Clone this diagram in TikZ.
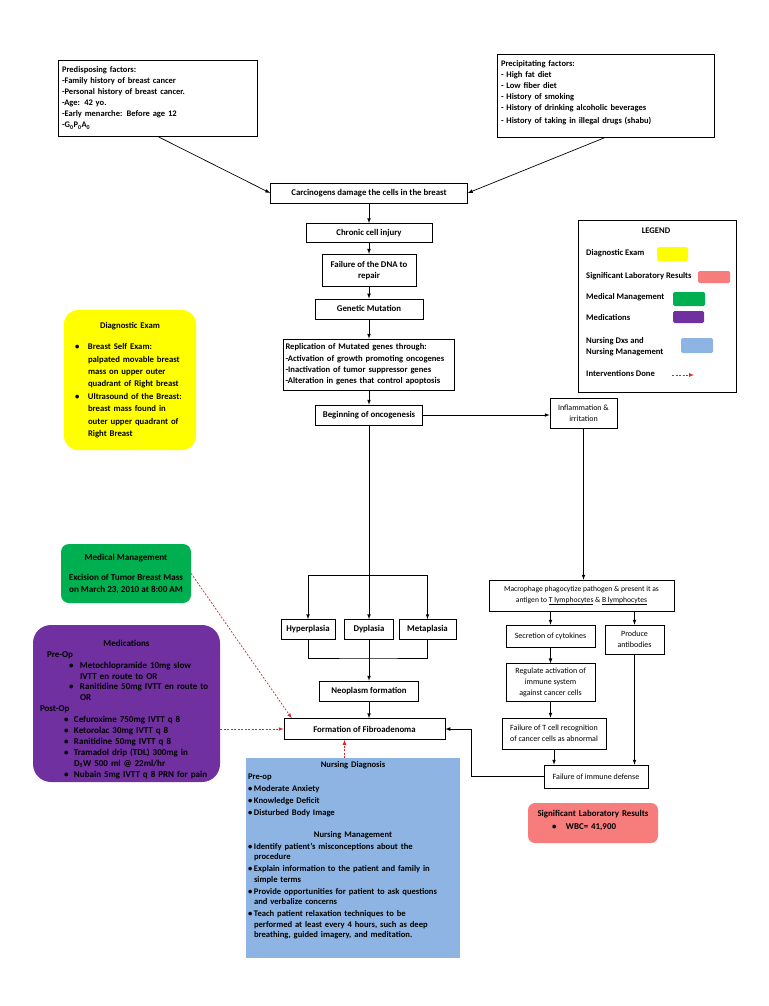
\documentclass[tikz,border=0pt]{standalone}
\usepackage{fontspec}
\setmainfont{Carlito}
\usetikzlibrary{positioning}

\definecolor{examyellow}{RGB}{255,255,0}
\definecolor{mgmtgreen}{RGB}{0,176,80}
\definecolor{medpurple}{RGB}{112,48,160}
\definecolor{labpink}{RGB}{247,124,124}
\definecolor{nurseblue}{RGB}{141,180,226}
\definecolor{donered}{RGB}{214,40,40}

\newcommand{\listline}[3]{\par\noindent\hangindent=\dimexpr#1+#2\relax\hangafter=1%
    \hspace*{#1}\makebox[#2][l]{\textbullet}#3\par}

\tikzset{
    flowbox/.style={draw, line width=0.7pt, inner sep=2pt, align=center,
        font=\fontsize{8.8}{11}\selectfont\bfseries},
    cellbox/.style={draw, line width=0.7pt, inner sep=2pt, align=center,
        font=\fontsize{8}{11}\selectfont},
    notebox/.style={fill=#1, rounded corners=6pt, inner sep=3pt,
        font=\fontsize{8.8}{12}\selectfont\bfseries},
    swatch/.style={fill=#1, rounded corners=1.5pt, inner sep=0pt,
        minimum width=31pt, minimum height=13pt},
    legendtext/.style={anchor=west, inner sep=0pt, align=left,
        font=\fontsize{8.6}{11}\selectfont\bfseries}
}

\begin{document}
\begin{tikzpicture}[x=1pt, y=-1pt]
\tikzstyle{flowline}=[->, >=latex, line width=0.7pt]
\tikzstyle{donearrow}=[->, >=latex, color=donered, dash pattern=on 2pt off 1.5pt, line width=0.7pt]

\useasboundingbox (0,0) rectangle (768,1006);

% factors
\node[flowbox, minimum width=199pt, minimum height=76pt, text width=191pt, align=left,
    font=\fontsize{8.5}{11}\selectfont\bfseries] (predisp) at (157.5,98)
    {Predisposing factors:\\-Family history of breast cancer\\-Personal history of breast cancer.\\-Age: 42 yo.\\-Early menarche: Before age 12\\-G\textsubscript{0}P\textsubscript{0}A\textsubscript{0}};
\node[flowbox, minimum width=217pt, minimum height=83pt, text width=209pt, align=left,
    font=\fontsize{8.5}{11}\selectfont\bfseries] (precip) at (605.5,95.5)
    {Precipitating factors:\\- High fat diet\\- Low fiber diet\\- History of smoking\\- History of drinking alcoholic beverages\\[2pt]- History of taking in illegal drugs (shabu)\\[-4pt]\mbox{}};

% main chain
\node[flowbox, minimum width=197pt, minimum height=20pt] (carc) at (369,193) {Carcinogens damage the cells in the breast};
\node[flowbox, minimum width=126pt, minimum height=19pt] (chronic) at (369,233) {Chronic cell injury};
\node[flowbox, minimum width=94pt, minimum height=32pt, below=11pt of chronic] (dna) {Failure of the DNA to\\repair};
\node[flowbox, minimum width=108pt, minimum height=20pt, below=12pt of dna] (genetic) {Genetic Mutation};
\node[flowbox, minimum width=171pt, minimum height=51pt, text width=167pt, align=left,
    font=\fontsize{8.6}{11.3}\selectfont\bfseries] (replic) at (369,364.5)
    {Replication of Mutated genes through:\\-Activation of growth promoting oncogenes\\-Inactivation of tumor suppressor genes\\-Alteration in genes that control apoptosis};
\node[flowbox, minimum width=107pt, minimum height=20pt] (onco) at (369,415) {Beginning of oncogenesis};
\node[flowbox, minimum width=54pt, minimum height=20pt] (hyper) at (308,629.5) {Hyperplasia};
\node[flowbox, minimum width=49pt, minimum height=20pt] (dys) at (369,629.5) {Dyplasia};
\node[flowbox, minimum width=57pt, minimum height=20pt] (meta) at (427.5,629.5) {Metaplasia};
\node[flowbox, minimum width=99pt, minimum height=20pt] (neo) at (369,691) {Neoplasm formation};
\node[flowbox, minimum width=161pt, minimum height=21pt] (fibro) at (364.5,729) {Formation of Fibroadenoma};

% immune side
\node[cellbox, minimum width=67pt, minimum height=30pt] (inflam) at (583.5,413) {Inflammation \&\\irritation};
\node[cellbox, minimum width=185pt, minimum height=31pt, font=\fontsize{7.6}{11}\selectfont] (macro) at (581.5,595.5)
    {Macrophage phagocytize pathogen \& present it as\\antigen to \underline{T lymphocytes} \& \underline{B lymphocytes}};
\node[cellbox, minimum width=89pt, minimum height=22pt] (secr) at (550.5,636) {Secretion of cytokines};
\node[cellbox, minimum width=59pt, minimum height=29pt] (prod) at (634.5,639.5) {Produce\\antibodies};
\node[cellbox, minimum width=89pt, minimum height=38pt, below=16pt of secr] (regu) {Regulate activation of\\immune system\\against cancer cells};
\node[cellbox, minimum width=104pt, minimum height=31pt] (failt) at (554,733.5) {Failure of T cell recognition\\of cancer cells as abnormal};
\node[cellbox, minimum width=104pt, minimum height=23pt] (failimm) at (596,776.5) {Failure of immune defense};

% coloured notes
\node[notebox=examyellow, rounded corners=14pt, minimum width=132pt, minimum height=140pt,
    text width=124pt, align=left, font=\fontsize{8.7}{12.4}\selectfont\bfseries] (diagexam) at (130,380)
    {{\centering Diagnostic Exam\par}\vspace{9pt}%
    \listline{7pt}{13pt}{Breast Self Exam:\newline palpated movable breast\newline mass on upper outer\newline quadrant of Right breast}%
    \listline{7pt}{13pt}{Ultrasound of the Breast:\newline breast mass found in\newline outer upper quadrant of\newline Right Breast}};
\node[notebox=mgmtgreen, rounded corners=8pt, minimum width=130pt, minimum height=59pt, align=center,
    font=\fontsize{9.1}{12}\selectfont\bfseries] (medmgmt) at (126,573.5)
    {Medical Management\\[8pt]Excision of Tumor Breast Mass\\on March 23, 2010 at 8:00 AM};
\node[notebox=medpurple, rounded corners=18pt, minimum width=187pt, minimum height=157pt,
    text width=181pt, align=left, font=\fontsize{9}{10.9}\selectfont\bfseries] (meds) at (126.5,703.5)
    {{\centering Medications\par}%
    \noindent\hspace*{11pt}Pre-Op\par
    \listline{33pt}{11pt}{Metochlopramide 10mg slow\newline IVTT en route to OR}%
    \listline{33pt}{11pt}{Ranitidine 50mg IVTT en route to\newline OR}%
    \noindent\hspace*{4pt}Post-Op\par
    \listline{28pt}{10pt}{Cefuroxime 750mg IVTT q 8}%
    \listline{28pt}{10pt}{Ketorolac 30mg IVTT q 8}%
    \listline{28pt}{10pt}{Ranitidine 50mg IVTT q 8}%
    \listline{28pt}{10pt}{Tramadol drip (TDL) 300mg in\newline D\textsubscript{5}W 500 ml @ 22ml/hr}%
    \listline{28pt}{10pt}{Nubain 5mg IVTT q 8 PRN for pain}%
    \vspace{-21pt}\mbox{}};
\node[notebox=nurseblue, sharp corners, anchor=north, minimum width=214pt, text width=210pt,
    inner xsep=2pt, align=left, font=\fontsize{8.6}{10.5}\selectfont\bfseries] (nurse) at (353,758)
    {\parskip=1.5pt
    {\centering Nursing Diagnosis\par}
    Pre-op\par
    \listline{0pt}{6pt}{Moderate Anxiety}%
    \listline{0pt}{6pt}{Knowledge Deficit}%
    \listline{0pt}{6pt}{Disturbed Body Image}%
    \vspace{10pt}
    {\centering Nursing Management\par}
    \listline{0pt}{6pt}{Identify patient's misconceptions about the\newline procedure}%
    \listline{0pt}{6pt}{Explain information to the patient and family in\newline simple terms}%
    \listline{0pt}{6pt}{Provide opportunities for patient to ask questions\newline and verbalize concerns}%
    \listline{0pt}{6pt}{Teach patient relaxation techniques to be\newline performed at least every 4 hours, such as deep\newline breathing, guided imagery, and meditation.}%
    \vspace{5.5pt}\mbox{}};
\node[notebox=labpink, rounded corners=7pt, minimum width=130pt, minimum height=40pt,
    text width=124pt, align=left, font=\fontsize{8.9}{13}\selectfont\bfseries] (labres) at (593,823)
    {{\centering Significant Laboratory Results\par}\listline{21pt}{14pt}{WBC= 41,900}\vspace{-6pt}\mbox{}};

% legend
\node[draw, line width=0.7pt, minimum width=158pt, minimum height=172pt] (legend) at (657,306) {};
\node[legendtext, anchor=center] (legtitle) at (656,231) {LEGEND};
\node[legendtext] (legexam) at (586,253) {Diagnostic Exam};
\node[legendtext] (leglab) at (586,276) {Significant Laboratory Results};
\node[legendtext] (legmgmt) at (586,297) {Medical Management};
\node[legendtext] (legmeds) at (586,318) {Medications};
\node[legendtext] (legnurse) at (586,346.5) {Nursing Dxs and\\Nursing Management};
\node[legendtext] (legdone) at (586,374) {Interventions Done};
\node[swatch=examyellow, minimum height=14pt] (swexam) at (672.5,254) {};
\node[swatch=labpink, minimum width=32pt, minimum height=12pt] (swlab) at (714,277) {};
\node[swatch=mgmtgreen, minimum width=32pt, minimum height=14pt] (swmgmt) at (689,299) {};
\node[swatch=medpurple, minimum height=12pt] (swmeds) at (688.5,317) {};
\node[swatch=nurseblue, minimum width=32pt, minimum height=15pt] (swnurse) at (697,345.5) {};
\coordinate (legfrom) at (672,375);
\coordinate (legto) at (694,375);
\draw[donearrow] (legfrom) -- (legto);

% connectors
\draw[flowline] (predisp.south) -- (carc.west);
\draw[flowline] (precip.south) -- (carc.east);
\draw[flowline] (carc) -- (chronic);
\draw[flowline] (chronic) -- (dna);
\draw[flowline] (dna) -- (genetic);
\draw[flowline] (genetic) -- (replic);
\draw[flowline] (replic) -- (onco);
\draw[flowline] (onco.east) -- (onco.east -| inflam.west);
\coordinate (fork) at (369,575);
\coordinate (join) at (369,658);
\draw[flowline] (onco) -- (dys);
\draw[line width=0.7pt] (hyper.north |- fork) -- (meta.north |- fork);
\draw[flowline] (hyper.north |- fork) -- (hyper.north);
\draw[flowline] (meta.north |- fork) -- (meta.north);
\draw[line width=0.7pt] (hyper.south) |- (join) -| (meta.south);
\draw[flowline] (dys) -- (neo);
\draw[flowline] (neo) -- (neo |- fibro.north);
\draw[flowline] (inflam.south) -- (inflam.south |- macro.north);
\draw[flowline] (secr.north |- macro.south) -- (secr.north);
\draw[flowline] (prod.north |- macro.south) -- (prod.north);
\draw[flowline] (secr) -- (regu);
\draw[flowline] (regu.south) -- (regu.south |- failt.north);
\draw[flowline] (failt.south) -- (failt.south |- failimm.north);
\draw[flowline] (prod.south) -- (prod.south |- failimm.north);
\draw[flowline] (failimm.west) -- ++(-72,0) |- (fibro.east);

% interventions
\draw[donearrow] (medmgmt.east) -- ([xshift=8pt]fibro.north west);
\draw[donearrow] (meds.east |- fibro.west) -- (fibro.west);
\draw[donearrow] ([xshift=-20pt]fibro.south |- nurse.north) -- ([xshift=-20pt]fibro.south);
\end{tikzpicture}
\end{document}
